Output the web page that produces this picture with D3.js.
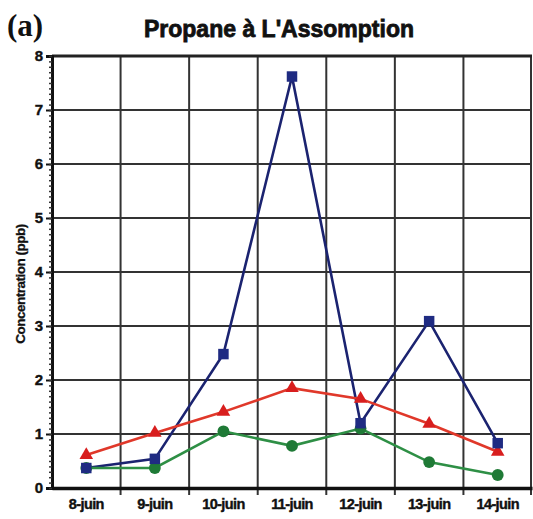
<!DOCTYPE html>
<html>
<head>
<meta charset="utf-8">
<script src="https://cdn.jsdelivr.net/npm/d3@7"></script>
<style>
  body { margin: 0; background: #fff; }
  text { font-family: 'Liberation Sans', Arial, sans-serif; }
</style>
</head>
<body>
<div id="chart"></div>
<script>
const WIDTH = 533;
const HEIGHT = 519;
const MARGIN = { top: 56, right: 1, bottom: 31, left: 52 };

const days = ['8-juin', '9-juin', '10-juin', '11-juin', '12-juin', '13-juin', '14-juin'];
const yTicks = [0, 1, 2, 3, 4, 5, 6, 7, 8];
const blueValues = [0.37, 0.54, 2.48, 7.62, 1.2, 3.09, 0.83];
const redValues = [0.61, 1.02, 1.41, 1.85, 1.65, 1.19, 0.67];
const greenValues = [0.37, 0.37, 1.05, 0.78, 1.1, 0.48, 0.24];

const series = [
  { name: 'blue', values: blueValues, line: '#1b2370', fill: '#1f2b82', shape: d3.symbolSquare, size: 110 },
  { name: 'red', values: redValues, line: '#e0382a', fill: '#d81e1e', shape: d3.symbolTriangle, size: 80 },
  { name: 'green', values: greenValues, line: '#2e8f45', fill: '#1f7a36', shape: d3.symbolCircle, size: 110 }
];

const svg = d3.select('#chart')
  .append('svg')
  .attr('width', WIDTH)
  .attr('height', HEIGHT);

const x = d3.scaleBand()
  .domain(days)
  .range([MARGIN.left, WIDTH - MARGIN.right]);

const y = d3.scaleLinear()
  .domain([0, 8])
  .range([HEIGHT - MARGIN.bottom, MARGIN.top]);

// vertical grid at band boundaries
const bounds = days.slice(1).map(d => x(d)).concat([x.range()[1] - 1]);
svg.append('g')
  .selectAll('line')
  .data(bounds)
  .join('line')
    .attr('x1', d => d).attr('x2', d => d)
    .attr('y1', y(8)).attr('y2', y(0) + 7)
    .attr('stroke', '#333')
    .attr('stroke-width', 2);

// horizontal grid
svg.append('g')
  .selectAll('line')
  .data(yTicks.slice(1))
  .join('line')
    .attr('x1', MARGIN.left).attr('x2', WIDTH - MARGIN.right)
    .attr('y1', d => y(d)).attr('y2', d => y(d))
    .attr('stroke', d => d === 8 ? '#222' : '#333')
    .attr('stroke-width', d => d === 8 ? 3 : 2);

// y axis with minor ticks
const yAxis = d3.axisLeft(y).tickValues(yTicks).tickSize(6).tickPadding(3);
const gy = svg.append('g')
  .attr('transform', `translate(${MARGIN.left},0)`)
  .call(yAxis);
gy.select('.domain').attr('stroke', '#111').attr('stroke-width', 3);
gy.selectAll('.tick line').attr('stroke', '#111').attr('stroke-width', 2);
gy.selectAll('.tick text')
  .attr('font-size', 15)
  .attr('font-weight', 'bold')
  .attr('stroke', '#111')
  .attr('stroke-width', 0.4)
  .attr('fill', '#111');

svg.append('g')
  .attr('transform', `translate(${MARGIN.left},0)`)
  .call(d3.axisLeft(y).ticks(80).tickSize(3).tickFormat(''))
  .call(g => g.select('.domain').remove())
  .selectAll('.tick line').attr('stroke', '#333').attr('stroke-width', 1.5);

// x axis
const xAxis = d3.axisBottom(x).tickSize(0).tickPadding(11);
const gx = svg.append('g')
  .attr('transform', `translate(0,${y(0)})`)
  .call(xAxis);
gx.select('.domain').attr('stroke', '#111').attr('stroke-width', 3.5);
gx.selectAll('.tick text')
  .attr('font-size', 14.5)
  .attr('font-weight', 'bold')
  .attr('letter-spacing', '-0.6px')
  .attr('stroke', '#111')
  .attr('stroke-width', 0.4)
  .attr('fill', '#111');

// series
const line = d3.line()
  .x((d, i) => x(days[i]) + x.bandwidth() / 2)
  .y(d => y(d));

series.forEach(s => {
  svg.append('path')
    .datum(s.values)
    .attr('fill', 'none')
    .attr('stroke', s.line)
    .attr('stroke-width', 2.6)
    .attr('d', line);
});

series.slice().reverse().forEach(s => {
  svg.append('g')
    .selectAll('path')
    .data(s.values)
    .join('path')
      .attr('transform', (d, i) => `translate(${x(days[i]) + x.bandwidth() / 2},${y(d)})`)
      .attr('d', d3.symbol().type(s.shape).size(s.size))
      .attr('fill', s.fill);
});

// titles
svg.append('text')
  .attr('x', 7)
  .attr('y', 36)
  .style('font-family', "'Liberation Serif', 'DejaVu Serif', serif")
  .attr('font-size', 31)
  .attr('font-weight', 'bold')
  .attr('fill', '#111')
  .text('(a)');

svg.append('text')
  .attr('x', 279)
  .attr('y', 37)
  .attr('text-anchor', 'middle')
  .attr('font-size', 23)
  .attr('font-weight', 'bold')
  .attr('stroke', '#111')
  .attr('stroke-width', 0.8)
  .attr('fill', '#111')
  .text("Propane à L'Assomption");

svg.append('text')
  .attr('transform', `translate(25,${(y(0) + y(8)) / 2 + 12}) rotate(-90)`)
  .attr('text-anchor', 'middle')
  .attr('font-size', 13.5)
  .attr('font-weight', 'bold')
  .attr('letter-spacing', '-0.5px')
  .attr('stroke', '#111')
  .attr('stroke-width', 0.3)
  .attr('fill', '#111')
  .text('Concentration (ppb)');
</script>
</body>
</html>
